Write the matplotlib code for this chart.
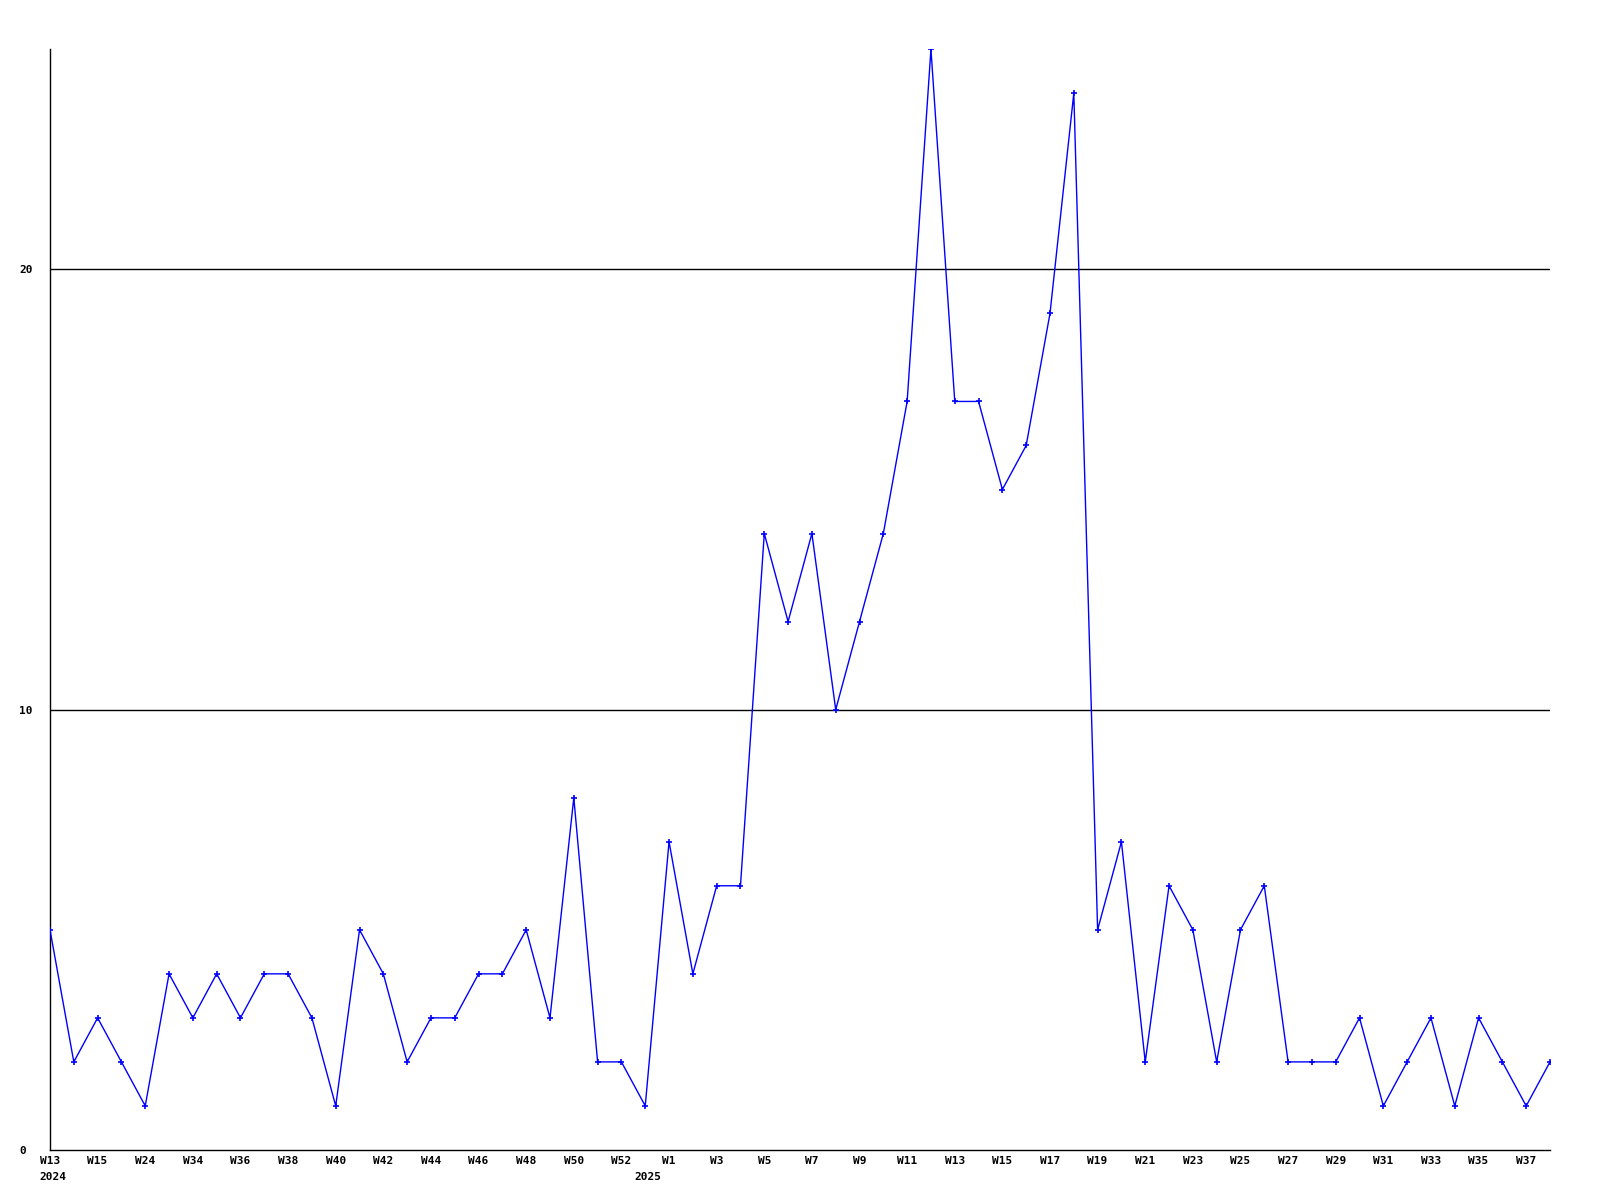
import matplotlib
matplotlib.use("Agg")
import matplotlib.pyplot as plt

values = [5, 2, 3, 2, 1, 4, 3, 4, 3, 4, 4, 3, 1, 5, 4, 2, 3, 3, 4, 4,
          5, 3, 8, 2, 2, 1, 7, 4, 6, 6, 14, 12, 14, 10, 12, 14, 17, 25, 17, 17,
          15, 16, 19, 24, 5, 7, 2, 6, 5, 2, 5, 6, 2, 2, 2, 3, 1, 2, 3, 1,
          3, 2, 1, 2]
tick_labels = ["W13", "W15", "W24", "W34", "W36", "W38", "W40", "W42", "W44", "W46",
               "W48", "W50", "W52", "W1", "W3", "W5", "W7", "W9", "W11", "W13",
               "W15", "W17", "W19", "W21", "W23", "W25", "W27", "W29", "W31", "W33",
               "W35", "W37"]
year_labels = ["2024", "2025"]
year_start_index = [0, 25]
y_ticks = [0, 10, 20]

font = dict(fontfamily="DejaVu Sans Mono", fontweight="bold", fontsize=8)

fig = plt.figure(figsize=(16, 12), dpi=100)
ax = fig.add_axes([0.03125, 0.0417, 0.9375, 0.9173])
x = list(range(len(values)))
ax.plot(x, values, color="#0000ff", linewidth=1.0, marker="+", markersize=4,
        markeredgewidth=1.2, zorder=3)
ax.set_xlim(0, len(values) - 1)
ax.set_ylim(0, 25)
for yv in y_ticks[1:]:
    ax.axhline(yv, color="black", linewidth=1.0, zorder=1)
ax.set_xticks(list(range(0, len(values), 2)))
ax.set_xticklabels(tick_labels, **font)
ax.set_yticks(y_ticks)
ax.set_yticklabels([str(v) for v in y_ticks], ha="left", **font)
ax.tick_params(axis="y", length=0, pad=22)
ax.tick_params(axis="x", length=0, pad=4)
trans = ax.get_xaxis_transform()
for lbl, idx in zip(year_labels, year_start_index):
    ax.annotate(lbl, xy=(idx, 0), xycoords=trans, xytext=(2, -16),
                textcoords="offset points", ha="center", va="top", **font)
for s in ["top", "right"]:
    ax.spines[s].set_visible(False)
ax.spines["left"].set_linewidth(1.0)
ax.spines["bottom"].set_linewidth(1.0)
fig.savefig("out.png", dpi=100)
